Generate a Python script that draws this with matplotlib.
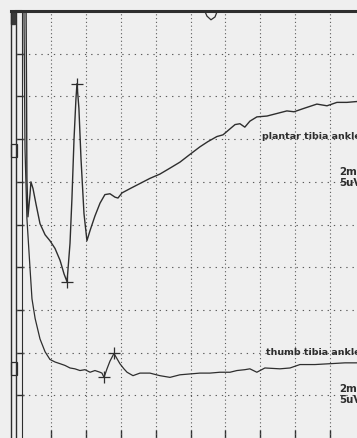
import matplotlib
matplotlib.use("Agg")
import matplotlib.pyplot as plt
from matplotlib.lines import Line2D
from matplotlib.patches import Rectangle

# sweep / sensitivity: 2 ms per division, 5 uV per division
MS_PER_DIV = 2
UV_PER_DIV = 5
X_MAX = 19.54
Y_MAX = 50

# plantar tibia ankle trace (displayed position, uV)
plantar_t = [0.57, 0.60, 0.62, 0.68, 0.80, 0.85, 0.97, 1.14, 1.37, 1.66, 1.94, 2.23,
             2.52, 2.75, 2.92, 3.09, 3.20, 3.32, 3.43, 3.49, 3.60, 3.72, 3.89, 4.06,
             4.24, 4.52, 4.81, 5.09, 5.38, 5.67, 5.84, 6.07, 6.53, 7.10, 7.67, 8.24,
             8.82, 9.39, 9.96, 10.54, 10.99, 11.51, 11.86, 12.26, 12.55, 12.83, 13.11,
             13.40, 13.80, 14.38, 14.95, 15.52, 15.93, 16.50, 17.24, 17.82, 18.39,
             18.96, 19.54]
plantar_v = [50.5, 39.7, 30.4, 25.9, 28.6, 30.0, 29.2, 27.4, 25.1, 23.8, 23.1, 22.2,
             20.8, 19.2, 18.3, 22.8, 28.0, 35.0, 39.7, 41.5, 38.6, 32.7, 26.3, 23.1,
             24.3, 26.0, 27.5, 28.5, 28.6, 28.2, 28.1, 28.7, 29.2, 29.8, 30.4, 30.9,
             31.6, 32.3, 33.2, 34.1, 34.7, 35.3, 35.5, 36.2, 36.7, 36.8, 36.4,
             37.1, 37.6, 37.7, 38.0, 38.3, 38.2, 38.6, 39.1, 38.9, 39.3,
             39.3, 39.4]
plantar_marks_t = [2.92, 3.49]
plantar_marks_v = [18.3, 41.5]

# thumb tibia ankle trace
thumb_t = [0.45, 0.51, 0.62, 0.80, 0.91, 1.09, 1.37, 1.66, 1.94, 2.23, 2.52, 2.80,
           3.09, 3.37, 3.66, 3.95, 4.24, 4.52, 4.81, 4.92, 5.04, 5.21, 5.38, 5.61,
           5.78, 5.95, 6.18, 6.36, 6.70, 7.10, 7.67, 8.24, 8.82, 9.39, 9.96, 10.54,
           11.11, 11.68, 12.26, 12.66, 13.11, 13.40, 13.80, 14.26, 15.12, 15.70,
           16.27, 17.13, 17.99, 18.85, 19.54]
thumb_v = [50.5, 33.9, 25.7, 19.8, 16.3, 14.0, 11.6, 10.1, 9.2, 8.9, 8.7, 8.5,
           8.2, 8.1, 7.9, 8.0, 7.7, 7.9, 7.7, 7.6, 7.1, 8.1, 9.0, 9.9,
           9.3, 8.7, 8.1, 7.7, 7.3, 7.6, 7.6, 7.3, 7.1, 7.4, 7.5, 7.6,
           7.6, 7.7, 7.7, 7.9, 8.0, 8.1, 7.7, 8.2, 8.1, 8.2,
           8.6, 8.6, 8.7, 8.8, 8.8]
thumb_marks_t = [5.04, 5.61]
thumb_marks_v = [7.1, 9.9]

# bit of a trace above the screen, only its dip is visible
top_t = [10.71, 10.94, 11.17, 11.40, 11.63]
top_v = [50.5, 49.4, 48.97, 49.3, 50.5]

labels = ["plantar tibia ankle", "thumb tibia ankle"]
label_t = [14.09, 14.32]
label_v = [35.4, 10.1]
scale_text = ["2ms", "5uV"]
scale_v = [(31.3, 30.0), (5.85, 4.55)]

W, H = 357, 439
bg = "#efefef"
ink = "#2e2e2e"

fig = plt.figure(figsize=(W / 100, H / 100), dpi=100)
fig.patch.set_facecolor(bg)
ax = fig.add_axes([16.1 / W, 0, 1 - 16.1 / W, 427 / H])
ax.set_facecolor(bg)
ax.set_xlim(0, X_MAX)
ax.set_ylim(0, Y_MAX)

# dotted graticule
for x in range(MS_PER_DIV, int(X_MAX) + 1, MS_PER_DIV):
    ax.axvline(x, color="#5a5a5a", lw=0.8, linestyle=(0, (1, 2.4)))
for y in range(UV_PER_DIV, Y_MAX, UV_PER_DIV):
    ax.axhline(y, color="#5a5a5a", lw=0.8, linestyle=(0, (1.2, 4.4)))

ax.plot(plantar_t, plantar_v, color=ink, lw=1.0)
ax.plot(thumb_t, thumb_v, color=ink, lw=0.9)
ax.plot(top_t, top_v, color=ink, lw=0.9)
ax.plot(plantar_marks_t, plantar_marks_v, "+", color=ink, ms=9, mew=0.9)
ax.plot(thumb_marks_t, thumb_marks_v, "+", color=ink, ms=9, mew=0.9)

# thin extra line next to the left edge
ax.axvline(0.34, color=ink, lw=0.8)

# trace labels and scale text (they run off the right edge, as on screen)
for name, t, v in zip(labels, label_t, label_v):
    ax.text(t, v, name, fontsize=6.8, fontweight="bold", color=ink,
            va="center", ha="left")
for v_ms, v_uv in scale_v:
    ax.text(18.51, v_ms, scale_text[0], fontsize=7.4, fontweight="bold",
            color=ink, va="center", ha="left")
    ax.text(18.51, v_uv, scale_text[1], fontsize=7.4, fontweight="bold",
            color=ink, va="center", ha="left")

# frame: thick top, left spine, inward ticks
for side in ("right", "bottom"):
    ax.spines[side].set_visible(False)
ax.spines["top"].set_linewidth(2.2)
ax.spines["top"].set_color(ink)
ax.spines["left"].set_linewidth(1.0)
ax.spines["left"].set_color(ink)
ax.set_xticks(range(MS_PER_DIV, int(X_MAX) + 1, MS_PER_DIV))
ax.set_yticks(range(UV_PER_DIV, Y_MAX, UV_PER_DIV))
ax.tick_params(direction="in", length=6, width=1.0, color=ink,
               labelleft=False, labelbottom=False)

# left margin pieces of the screen
fx = lambda px: px / W
fy = lambda py: 1 - py / H
fig.add_artist(Line2D([fx(11), fx(11)], [fy(12), 0], color=ink, lw=1.0))
fig.add_artist(Line2D([fx(11), fx(20)], [fy(12), fy(12)], color=ink, lw=2.2))
fig.add_artist(Rectangle((fx(11), fy(25)), fx(4), 13 / H, color="#3a3a3a"))
for top in (145, 363):
    fig.add_artist(Rectangle((fx(11), fy(top + 13)), fx(6), 13 / H,
                             fill=False, edgecolor=ink, lw=0.9))

fig.savefig("out.png", dpi=100, facecolor=bg)
